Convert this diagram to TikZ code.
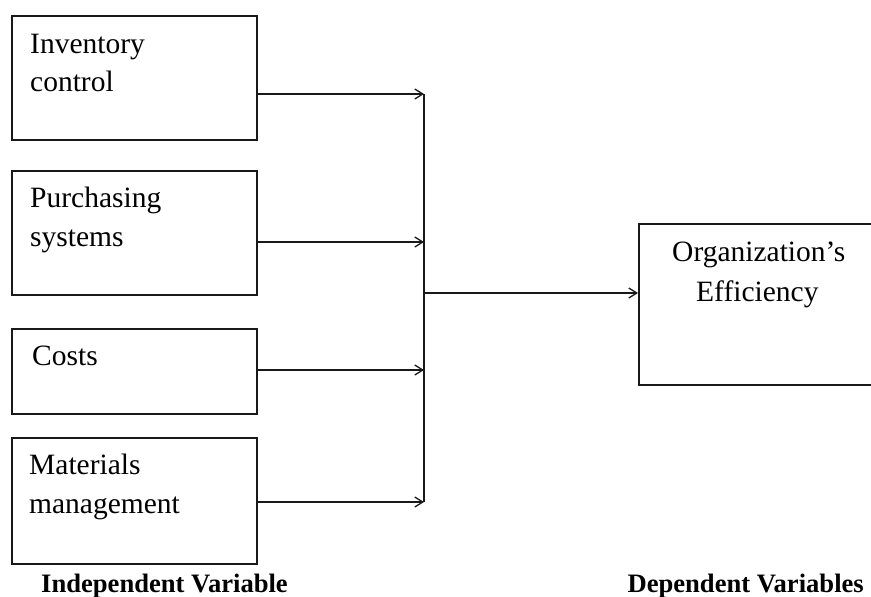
\documentclass[tikz,border=0pt]{standalone}
\usepackage{fontspec}
\setmainfont{Liberation Serif}
\usetikzlibrary{arrows.meta}
\begin{document}
\begin{tikzpicture}[x=1pt,y=-1pt,
  box/.style={draw=black!90, line width=1.6pt, rectangle, inner sep=0pt, anchor=north west},
  txt/.style={font=\fontsize{29.5}{35}\selectfont, inner sep=0pt, anchor=base west},
  lbl/.style={font=\bfseries\fontsize{26.6}{30}\selectfont, inner sep=0pt},
  conn/.style={draw=black!90, line width=1.3pt, -{Straight Barb[length=8pt,width=10pt,line width=1.3pt]}},
  bus/.style={draw=black!90, line width=1.3pt}]
\useasboundingbox (0,0) rectangle (871,597);
\clip (0,0) rectangle (871,597);
% independent variable boxes
\node[box, minimum width=245pt, minimum height=124pt] (b1) at (11,15) {};
\node[box, minimum width=245pt, minimum height=124pt] (b2) at (11,170) {};
\node[box, minimum width=245pt, minimum height=85pt]  (b3) at (11,328) {};
\node[box, minimum width=245pt, minimum height=126pt] (b4) at (11,437) {};
% dependent variable box (runs off the right edge)
\node[box, minimum width=260pt, minimum height=161pt] (org) at (638,223) {};
% texts
\node[txt] (t1a) at (30,53) {Inventory};
\node[txt] (t1b) at (30,91) {control};
\node[txt] (t2a) at (30,207) {Purchasing};
\node[txt] (t2b) at (30,246) {systems};
\node[txt] (t3a) at (32,365) {Costs};
\node[txt] (t4a) at (29,474) {Materials};
\node[txt] (t4b) at (29,513) {management};
\node[txt] (o1) at (672,261) {Organization’s};
\node[txt] (o2) at (696,301) {Efficiency};
\node[lbl, anchor=base west] (lin) at (41,592) {Independent Variable};
\node[lbl, anchor=base east] (ldep) at (864,592) {Dependent Variables};
% bus coordinates
\coordinate (j1) at (424,94);
\coordinate (j2) at (424,242);
\coordinate (j3) at (424,370);
\coordinate (j4) at (424,502);
\coordinate (jm) at (424,293);
\draw[bus] (j1) -- (j4);
\draw[conn] (b1.east |- j1) -- (j1);
\draw[conn] (b2.east |- j2) -- (j2);
\draw[conn] (b3.east |- j3) -- (j3);
\draw[conn] (b4.east |- j4) -- (j4);
\draw[conn] (jm) -- (org.west |- jm);
\end{tikzpicture}
\end{document}
